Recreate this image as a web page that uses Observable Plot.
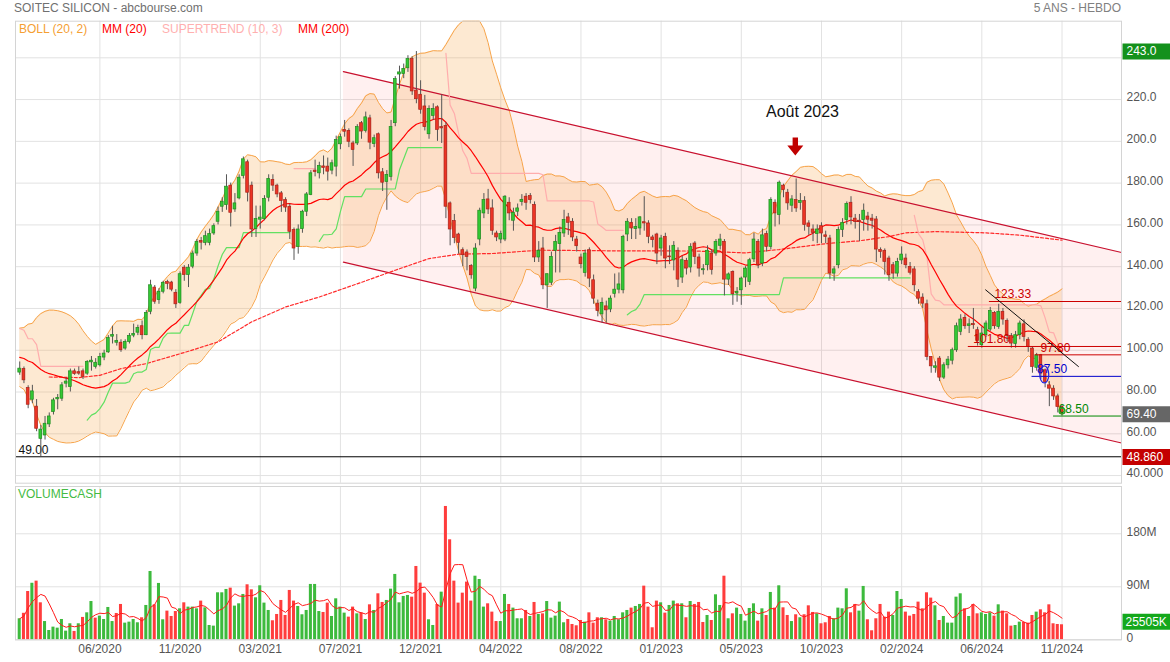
<!DOCTYPE html>
<html><head><meta charset="utf-8">
<script src="https://cdn.jsdelivr.net/npm/d3@7"></script>
<script src="https://cdn.jsdelivr.net/npm/@observablehq/plot@0.6"></script>
<style>
body{margin:0;background:#fff;font-family:'Liberation Sans',Arial,sans-serif;}
#wrap{position:relative;width:1170px;height:662px;overflow:hidden;background:#fff;}
#wrap svg{position:absolute;left:0;}
.t{position:absolute;white-space:nowrap;font-size:12px;line-height:14px;z-index:3;}
</style></head>
<body><div id="wrap"></div>
<script>
// ---------- DATA (weekly, first bar = week of 10/02/2020) ----------
const closesBefore = [96, 98, 94, 97, 94, 89, 85, 86, 90, 93, 96, 100, 103, 106, 108, 108, 106, 102, 89];
const weekOpen = [
89.3,91,81.9,76.3,73,57.6,59.2,64.5,70.4,76.5,
76.8,84,82.4,89.9,89.5,89.9,88.8,94.2,92,92.8,
96.5,99,106.5,103.6,103.6,100.8,104,107,108.4,111.5,
107.2,118.4,130,124,128,132.6,132.4,127.5,122.7,139.5,
136,140,146.3,152.3,151.4,151.4,155.9,161.5,168.7,169.5,
178.8,167.4,172.7,183.4,190,178.8,158,162.5,162.8,173,
181.5,178.8,175.1,171.9,168.7,157.5,149.5,158,166.3,174.3,
186,184.7,188,187.9,186,187.9,198.6,205.5,205,199,
199,208.7,205,211,198.7,203.4,185.2,180.6,183,208.7,
232,232.2,235,239.4,224.3,222.3,216.7,203.4,212.2,216.3,
206.8,207.4,170.3,161.8,155.4,147.9,146.8,140.3,129.5,153,
165.5,172.2,167.9,155.9,153,153,170.6,162,166.3,171,
173.5,173.8,169.5,144.4,148.7,131.1,132.3,147.6,150.8,155.9,
163.6,161.5,153,144.4,137,147.9,133.5,122.3,117.2,121,
119.5,127,129,128.7,155.4,161,158,158.3,161.3,160.7,
154,155.4,148.7,154.3,144.9,143,147.6,134.8,142.8,139.6,
151.1,144.4,138.3,140.7,146.3,146.3,150,151.9,133.8,137.5,
127.2,128.7,134.8,132.7,143.5,151.9,141.5,155.6,149.5,170.6,
164.7,178.8,175.4,169.2,171.9,170.5,171.4,160.7,157.8,155.6,
159.4,155,153.5,136.7,140.7,157.5,162.3,170.6,163,162,
162.3,164,163,162.6,148,147.6,143.9,140.7,136.7,143,
143.9,139.9,138.7,127.8,125.2,122,96.8,91.6,96,86.9,
92.8,95,100,108.7,115.5,111.6,112.5,109.6,102.4,107.2,
109.9,117.9,111.2,118.4,114,106.8,103,107.2,112.4,105,
100.8,91.6,97.6,90.4,83.2,81.6,77.9,72.8];
const weekClose = [
91.2,85.6,73.9,80.3,62.4,62,64.8,68.3,76,77.2,
83.2,85,89.9,88.6,88.8,87.2,94.4,95,94,96.8,
98.4,105.8,107.3,104.4,100,104,106.8,107.8,110.7,107.2,
117.9,131.1,123.2,128,132.3,131.8,129,122,136.4,136,
139.5,146.3,151.9,151.5,154.6,155.6,159.4,166.3,171.1,178.3,
165.8,170.3,182.6,191.4,175.4,157.8,162.8,163.5,172.4,182,
178.8,174.6,171.5,168.3,156.7,148.7,157.8,166.3,174.6,184.7,
185.3,188.2,187.3,185.5,189.5,200.6,202,204.6,199.8,195.9,
206.8,204.7,211.5,199.4,201.5,184.7,180.2,183.9,206.8,229.8,
233,234.7,239.4,223.9,220.2,215.1,206.8,215.5,215.5,205.5,
206.2,168.7,157.8,153.8,151.4,145.5,144.7,135.9,148.7,166.8,
171.9,167.4,157.2,154,155.6,173.5,165.5,165.8,167.9,172,
170.6,171.9,144.4,147.6,131.1,136.4,144.7,151.9,156.2,162.3,
161,154,149.8,141.2,146.3,134.3,124.7,118.8,122.7,119.1,
124.7,129,131.5,154.3,161.5,158.3,159,163.6,160.7,154.3,
152.7,146.3,153.5,143.9,144.5,150,133.8,143.1,139.1,149.5,
144.7,139.1,138.8,147.6,138.5,151.9,153,133.8,136.3,126.8,
128,134.3,139.1,143.1,153,140.7,155,149.5,171.9,165.5,
180.2,176.7,170.3,172.2,167.9,171.5,159.9,159.1,156.2,157.8,
155.9,154.2,136.7,138.7,157.5,161,170,163.6,161.5,161.5,
166.8,162.5,162,148.2,147,142.3,135.9,136.7,142.3,145.8,
140.7,137.1,131.1,124.7,122.3,96.8,92.3,92.3,86.9,92.8,
95.5,100,111.5,114.7,111.5,112.4,112,104.4,108,112.8,
118.8,111.5,118.4,114.7,106.8,103.2,107.2,112.8,106.4,101.6,
92,97.6,88.8,84.8,81.6,77.9,72.8,69.4];
const weekHigh = [
94.4,92,83,83.2,76.4,64,68.3,70,77,78.8,
84.5,86.7,91,91,92,91,95,97,96,98.5,
100,107,111.5,107.5,105,105,108,112.5,112,114,
119,133.5,131,129.5,133,133.5,133,129,137.5,140.5,
141,147.5,153,154,157,158,160.5,168.5,173,184,
180,175,184,192.5,191,180.5,169,169,174,184,
184,179.5,176,173,170,158.5,160,167,175.5,186,
191,190,193,192,191,202.5,203.5,210,206,200,
208,209.5,214,212.5,203,204,187,186,210,231,
236,237,241,240.5,243,229,222,217,218,217,
222.3,209,171,165,156,149,148,141,151,168,
175,177,172,157,157,174,173,168,170,174.5,
175,175,171,152,154,136.5,147,155,159,167,
165.5,163,154.5,146,148,149,136,124,125,123.5,
126,136.5,137,155,163,163,163,164,173.5,162,
155,156,155,156,150,152,149,145,144,151,
152,146,141,150,148,153,155.5,153,137,138,
130,135,140,144,156,153,158,157,173,172,
181,179.5,177,174,182,175,173.5,162,160,160,
161,157,155,140,159,163,171,173.5,165,165,
170,166,165,164,149,148.5,145,142,144,149.5,
146,142,140,129,127,124,97,94.5,97,94,
97,101,113,117,117,115,120,111,111,114,
120.5,118.5,122,120,115,108,109,114,114.5,106,
101.5,98.5,98,91,85,83,79,73.5];
const weekLow = [
88,84,72,74.4,61,49,57,63,69,71.5,
75.5,82,80,88,88,86,88,90,91,92,
95,98.5,103,102,99,100,103,106,107,105,
107,117,122,122,127,129,128,120,122,133,
130,139,145,148,150,150,155,160,166,167,
159,166,172,182,171,154,154,158,162,171,
176,173,166,166,153,143,146,156,164,174,
183,182,184,181,184,183,196,202,197,188,
198,201,204,196,197,182,176,167,181,207,
225,230,233,222,218,213,205,201,210,200,
199,163,150,151,146,140,138,134,128,150,
163,165,155,152,151,152,162,157,164,169,
167,170,142,142,129,120,131,137,137,154,
155,152,147,139,135,130,122,116,113,113,
118,125,127,127,152,153,153,155,157,151,
149,141,145,139,141,138,130,132,136,137,
141,135,136,138,136,145,148,126,131,121.5,
123,121.5,130,131,142,139,140,147,148,159,
160,173,167,166,166,167,157,155,152,151,
151,151,134,133,139,154,160,160,158,152,
157,157,158,142,144,136,133,134,135,141,
139,136,128,122,120,95,89,89,85,86,
91,93,99,107,110,108,110,102,101,106,
109,110,110,112,104,101,101,105,104,99,
89,90,86,82,73,76,70,68.5];
const weekVolume = [ // millions
35.7,45,82,96,99.6,62.8,31,15.8,21.5,19.8,
34.5,14.7,27.2,14.2,27.2,38,45.8,65,36.8,40.2,
34.5,54.9,31,44.7,60,28.3,30,34.5,28.9,37.4,
58.3,116,59.4,95.7,34,48.7,39.6,48,52.6,62.8,
55.5,55.5,52.6,65.7,54.3,24.3,23.2,79.8,79.8,85.5,
87.7,57.2,61.1,77,93.4,84.9,71.3,91.7,62.3,49.8,
32.3,43,66.8,41.3,83.8,65.7,56.6,42.5,49.8,94,
94,48,46.4,62.3,39.6,69.6,55.5,45.3,38.5,55.5,
44.1,45.8,34.5,59.4,49.8,78.1,63.4,66.8,86,111,
62.8,73.6,75.3,72.4,124.5,96.2,79.2,34,24.3,60,
80.9,226.4,169.8,99.6,62.3,79.2,98,65.7,108,102.4,
55.5,61.1,47,31,31,77,60,53.8,35.7,35.7,
49.8,39.6,63.4,43,44.1,65,36.8,40.2,64,28.9,
34.5,26,23.8,32.8,30,45.8,28.3,37.4,37.4,34,
31.7,39.6,34,45.8,49.8,53.8,56.6,60,91.1,55.5,
20.4,65.7,62.8,45.3,58.3,65.7,61.1,61.1,37.4,65,
60,63.4,29.4,41.3,32.8,76.4,58.3,108,35.7,44.1,
53.8,43,31.7,53.2,61.1,31.7,52.6,41.3,80.4,53.8,
91.7,54.3,41.3,31,42.5,37.4,42.5,57.7,46.4,44.1,
27.2,28.9,39.6,35.7,53.8,52.6,86.6,45.8,60,48.7,
90.6,34,15.3,35.7,60,38.5,47,41.3,82,68.5,
47,40.2,43,64,52.6,79.8,70.8,57.7,32.8,39.6,
28.3,28.3,72.4,78.1,52.6,39.6,60,44.1,45.8,43,
45.8,40.2,59.4,48.7,44.1,23.2,24.3,30,29.4,28.3,
41.3,47,50.9,45.8,59.4,27.2,26,25.505];
// MM200 (week index, value)
const mm200Week = [7,14,19,24,30,40,47,55,63,71,81,89,97,104,112,123,140,160,172,180,191,199,206,210,217,229,237,247];
const mm200Value = [87.2,86.9,88,91.2,93.6,99.5,104,113.6,120.7,125.5,132.5,138.3,143.9,146,146.3,147.9,147.6,147.5,146.6,148.2,151,152.4,154.4,156.2,156.8,156.2,155.1,152.7];
// regression channel (week index, upper, lower)
const channelWeek = [76.7, 261.1];
const channelUpper = [233.4, 146.8];
const channelLower = [142.2, 55.6];
// horizontal levels
const levelValue = [123.33, 101.80, 97.80, 87.50, 68.50];
const levelLabel = ["123.33", "101.80", "97.80", "87.50", "68.50"];
const levelStart = [229.8, 224.8, 240.7, 239.9, 245.0];
const levelColor = ["#cc0000", "#cc0000", "#cc0000", "#0000cc", "#008800"];
// trendline
const trendWeek = [228.9, 250.9];
const trendValue = [128.9, 92.2];
// x ticks
const tickIndex = [19,38,57,76,95,114,133,152,171,190,209,228,247];
const tickLabels = ["06/2020","11/2020","03/2021","07/2021","12/2021","04/2022","08/2022","01/2023","05/2023","10/2023","02/2024","06/2024","11/2024"];
// y ticks
const priceGridValues = [40,60,80,100,120,140,160,180,200,220,240];
const yTickValues = [40,60,80,100,120,140,160,180,200,220];
const yTickLabels = ["40.000","60.00","80.00","100.00","120.00","140.00","160.00","180.00","200.0","220.0"];
const priceBoxValue = [243.0, 69.40, 48.86];
const priceBoxLabel = ["243.0", "69.40", "48.860"];
const priceBoxColor = ["#14911c", "#666666", "#c40000"];
const volTickValues = [0, 90, 180];
const volTickLabels = ["0", "90M", "180M"];
const volBoxLabel = "25505K";
const blackLevel = 49.00;
const noteText = "Août 2023", noteWeek = 185.5, noteValue = 213.9;
const arrowWeek = 183.8, arrowValue = 197.5;
const circleWeek = 242.8, circleValue = 88.4;

// ---------- derived ----------
const yDomain = [36.35, 257.52];
const N = weekClose.length;
const candles = weekClose.map((c, i) => {
  const o = weekOpen[i];
  return {i, open: o, close: c, high: Math.max(weekHigh[i], o, c), low: Math.min(weekLow[i], o, c)};
});
const allC = closesBefore.concat(weekClose);
const P = closesBefore.length;
const boll = weekClose.map((c, i) => {
  const w = allC.slice(i + P - 19, i + P + 1);
  const m = d3.mean(w);
  const s = Math.sqrt(d3.mean(w, v => (v - m) ** 2));
  // the panel cuts the band at its top edge
  return {i, mid: m, upper: Math.min(m + 2 * s, yDomain[1]), lower: m - 2 * s};
});
// supertrend (10, 3)
const st = [];
{
  let atr = 0, fu = 0, fl = 0, up = false, seg = 0;
  const tr = candles.map((d, i) => i === 0 ? d.high - d.low :
    Math.max(d.high - d.low, Math.abs(d.high - candles[i-1].close), Math.abs(d.low - candles[i-1].close)));
  candles.forEach((d, i) => {
    atr = i < 10 ? d3.mean(tr.slice(0, i + 1)) : (atr * 9 + tr[i]) / 10;
    const hl2 = (d.high + d.low) / 2, bu = hl2 + 3 * atr, bl = hl2 - 3 * atr;
    if (i === 0) { fu = bu; fl = bl; }
    else {
      const pc = candles[i-1].close;
      fu = (bu < fu || pc > fu) ? bu : fu;
      fl = (bl > fl || pc < fl) ? bl : fl;
    }
    const nu = up ? d.close >= fl : d.close > fu;
    if (i > 0 && nu !== up) seg++;
    up = nu;
    st.push({i, v: Math.min(up ? fl : fu, yDomain[1]), up, seg});
  });
}
const vols = weekVolume.map((v, i) => {
  const prev = i === 0 ? closesBefore[P - 1] : weekClose[i - 1];
  return {i, v, up: weekClose[i] >= prev, ma: d3.mean(weekVolume.slice(Math.max(0, i - 4), i + 1))};
});
const mm200 = mm200Week.map((w, k) => ({i: w, v: mm200Value[k]}));
const channel = channelWeek.map((w, k) => ({i: w, upper: channelUpper[k], lower: channelLower[k]}));
const levels = levelValue.map((v, k) => ({v, t: levelLabel[k], s: levelStart[k], c: levelColor[k]}));
const trend = trendWeek.map((w, k) => ({i: w, v: trendValue[k]}));
const priceBoxes = priceBoxValue.map((v, k) => ({v, t: priceBoxLabel[k], c: priceBoxColor[k]}));

// ---------- symbols ----------
const boxSymbol = {draw(ctx) { ctx.moveTo(0, -8); ctx.lineTo(49, -8); ctx.lineTo(49, 8); ctx.lineTo(0, 8); ctx.closePath(); }};
const arrowSymbol = {draw(ctx) { ctx.moveTo(-2.7, -9); ctx.lineTo(2.7, -9); ctx.lineTo(2.7, -1); ctx.lineTo(8, -1); ctx.lineTo(0, 9); ctx.lineTo(-8, -1); ctx.lineTo(-2.7, -1); ctx.closePath(); }};
const ellipseSymbol = {draw(ctx) { const rx = 4.5, ry = 8.5, k = 0.5523;
  ctx.moveTo(rx, 0); ctx.bezierCurveTo(rx, ry*k, rx*k, ry, 0, ry); ctx.bezierCurveTo(-rx*k, ry, -rx, ry*k, -rx, 0);
  ctx.bezierCurveTo(-rx, -ry*k, -rx*k, -ry, 0, -ry); ctx.bezierCurveTo(rx*k, -ry, rx, -ry*k, rx, 0); ctx.closePath(); }};

const xDomain = [-1.0, 261.1];
const FONT = "'Liberation Sans', Arial, sans-serif";
const GRID = "#e2e2e2";

const price = Plot.plot({
  width: 1170, height: 484,
  marginTop: 20.7, marginBottom: 1.3, marginLeft: 15, marginRight: 49,
  x: {domain: xDomain, axis: null},
  y: {domain: yDomain, axis: null},
  color: {type: "identity"},
  style: {fontFamily: FONT, fontSize: "12px", overflow: "visible", background: "transparent"},
  marks: [
    Plot.ruleY(priceGridValues, {stroke: GRID}),
    Plot.ruleX(tickIndex, {stroke: GRID}),
    Plot.areaY(channel, {x: "i", y1: "lower", y2: "upper", fill: "#ff0000", fillOpacity: 0.06}),
    Plot.areaY(boll, {x: "i", y1: "lower", y2: "upper", fill: "#f9a94b", fillOpacity: 0.25}),
    Plot.line(boll, {x: "i", y: "upper", stroke: "#f7a348", strokeWidth: 1}),
    Plot.line(boll, {x: "i", y: "lower", stroke: "#f7a348", strokeWidth: 1}),
    Plot.line(channel, {x: "i", y: "upper", stroke: "#c8102e", strokeWidth: 1.2}),
    Plot.line(channel, {x: "i", y: "lower", stroke: "#c8102e", strokeWidth: 1.2}),
    Plot.line(mm200, {x: "i", y: "v", stroke: "#ff2a2a", strokeWidth: 1.2, strokeDasharray: "3,2"}),
    Plot.line(st, {x: "i", y: "v", z: "seg", stroke: d => d.up ? "#62e062" : "#ffadad", strokeWidth: 1.2}),
    Plot.line(boll, {x: "i", y: "mid", stroke: "#ff0000", strokeWidth: 1.2}),
    Plot.ruleY([blackLevel], {stroke: "#000", strokeWidth: 1}),
    Plot.text([blackLevel], {y: d => d, text: d => d.toFixed(2), frameAnchor: "left", dx: 3, dy: -7, textAnchor: "start", fill: "#111", fontSize: 12}),
    Plot.ruleX(candles, {x: "i", y1: "low", y2: "high", stroke: "#555", strokeWidth: 1}),
    Plot.rect(candles, {x1: d => d.i - 0.33, x2: d => d.i + 0.33, y1: "open", y2: "close",
      fill: d => d.close >= d.open ? "#33c833" : "#ec3424",
      stroke: d => d.close >= d.open ? "#1f8a1f" : "#a8231a", strokeWidth: 0.7}),
    Plot.ruleY(levels, {y: "v", x1: "s", x2: () => xDomain[1], stroke: "c", strokeWidth: 1}),
    Plot.text(levels, {x: "s", y: "v", text: "t", dx: 5, dy: -7, textAnchor: "start", fill: "c", fontSize: 12}),
    Plot.line(trend, {x: "i", y: "v", stroke: "#111", strokeWidth: 1}),
    Plot.dot([0], {x: () => circleWeek, y: () => circleValue, symbol: ellipseSymbol, r: 5, stroke: "#2020e0", fill: "none", strokeWidth: 1.2}),
    Plot.dot([0], {x: () => N - 1, y: () => weekClose[N - 1] + 1.5, r: 3, stroke: "#22aa22", fill: "none", strokeWidth: 1.2}),
    Plot.dot([0], {x: () => arrowWeek, y: () => arrowValue, symbol: arrowSymbol, r: 5, fill: "#c00000"}),
    Plot.text([noteText], {x: () => noteWeek, y: () => noteValue, text: d => d, fill: "#111", fontSize: 16}),
    Plot.text(yTickValues, {y: d => d, text: (d, k) => yTickLabels[k], frameAnchor: "right", dx: 5, dy: -2, textAnchor: "start", fill: "#555", fontSize: 12}),
    Plot.dot(priceBoxes, {y: "v", frameAnchor: "right", dx: 1, symbol: boxSymbol, r: 5, fill: "c"}),
    Plot.text(priceBoxes, {y: "v", text: "t", frameAnchor: "right", dx: 5, textAnchor: "start", fill: "#fff", fontSize: 12}),
    Plot.frame({stroke: "#d4d4d4"})
  ]
});
price.style.top = "0px";

const vol = Plot.plot({
  width: 1170, height: 178,
  marginTop: 2, marginBottom: 22.7, marginLeft: 15, marginRight: 49,
  x: {domain: xDomain, axis: null},
  y: {domain: [0, 260.3], axis: null},
  color: {type: "identity"},
  style: {fontFamily: FONT, fontSize: "12px", overflow: "visible", background: "transparent"},
  marks: [
    Plot.ruleY(volTickValues, {stroke: GRID}),
    Plot.ruleX(tickIndex, {stroke: GRID}),
    Plot.rect(vols, {x1: d => d.i - 0.36, x2: d => d.i + 0.36, y1: 0, y2: "v", fill: d => d.up ? "#3dba3d" : "#ff3d3d"}),
    Plot.line(vols, {x: "i", y: "ma", stroke: "#ff1a1a", strokeWidth: 1}),
    Plot.text(volTickValues, {y: d => d, text: (d, k) => volTickLabels[k], frameAnchor: "right", dx: 5, dy: -2, textAnchor: "start", fill: "#555", fontSize: 12}),
    Plot.dot([weekVolume[N - 1]], {y: d => d, frameAnchor: "right", dx: 1, dy: -3, symbol: boxSymbol, r: 5, fill: "#14a81c"}),
    Plot.text([weekVolume[N - 1]], {y: d => d, text: () => volBoxLabel, frameAnchor: "right", dx: 4, dy: -3, textAnchor: "start", fill: "#fff", fontSize: 12}),
    Plot.text(tickIndex, {x: d => d, text: (d, k) => tickLabels[k], frameAnchor: "bottom", dy: 13, fill: "#555", fontSize: 12}),
    Plot.frame({stroke: "#d4d4d4"})
  ]
});
vol.style.top = "484px";

const wrap = document.getElementById("wrap");
wrap.appendChild(price);
wrap.appendChild(vol);

// title, subtitle and legends (HTML)
const labels = [
  ["SOITEC SILICON - abcbourse.com", "#707070", 14, 1],
  ["BOLL (20, 2)", "#f5a033", 19, 22], ["MM (20)", "#ff0000", 102, 22],
  ["SUPERTREND (10, 3)", "#ffb0b0", 162, 22], ["MM (200)", "#ff0000", 298, 22],
  ["VOLUMECASH", "#44bb44", 18, 487]
];
labels.forEach(([t, c, x, y]) => {
  const d = document.createElement("div"); d.className = "t"; d.textContent = t;
  d.style.left = x + "px"; d.style.top = y + "px"; d.style.color = c; wrap.appendChild(d);
});
const sub = document.createElement("div"); sub.className = "t"; sub.textContent = "5 ANS - HEBDO";
sub.style.right = "49px"; sub.style.top = "1px"; sub.style.color = "#808080"; wrap.appendChild(sub);
</script>
</body></html>
